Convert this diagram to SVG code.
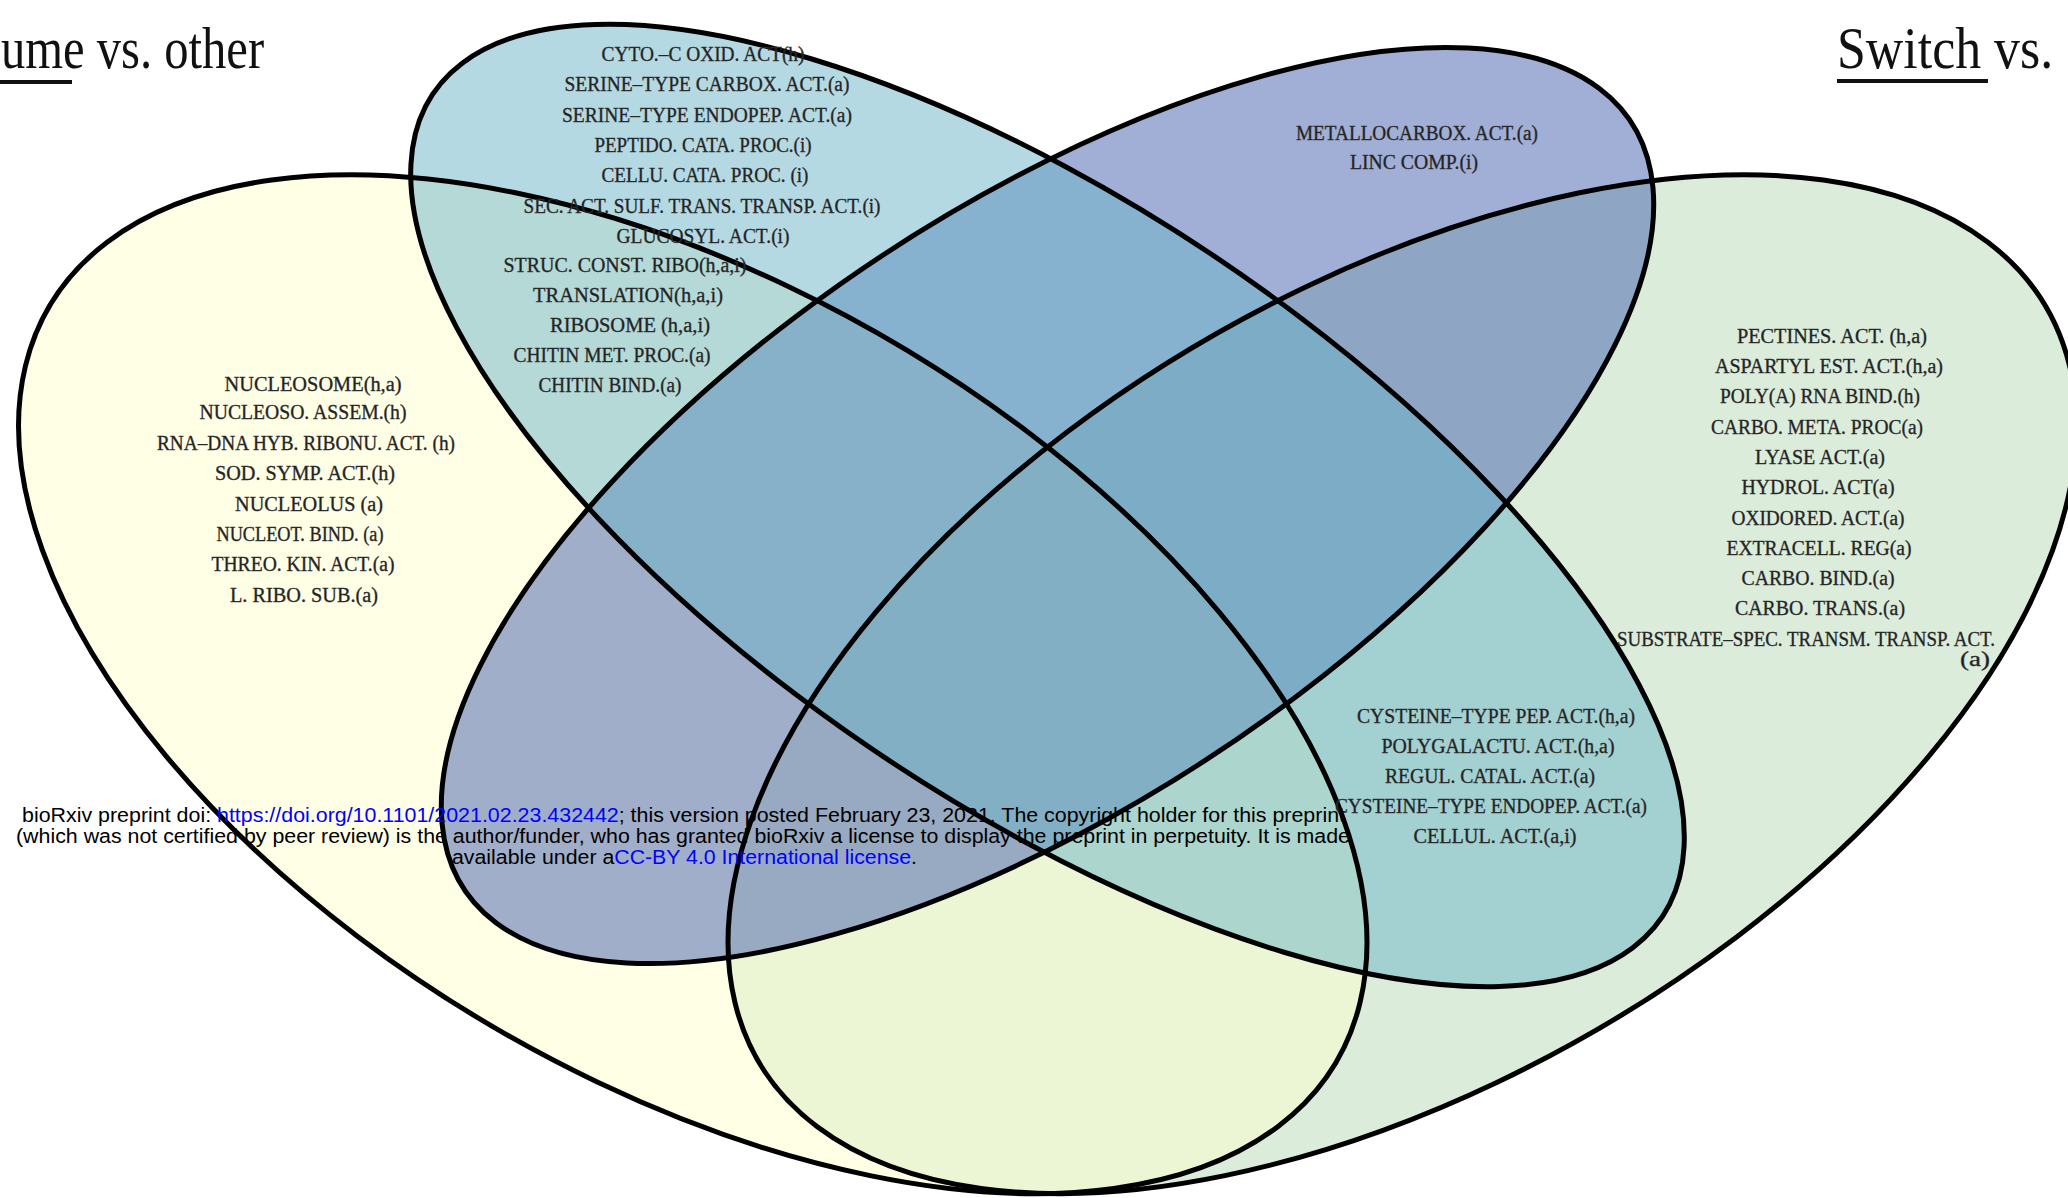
<svg xmlns="http://www.w3.org/2000/svg" width="2068" height="1198" viewBox="0 0 2068 1198">
<defs>
<style>
.fill{stroke:none;fill-opacity:0.5}
.outline{fill:none;stroke:#000;stroke-width:5;vector-effect:non-scaling-stroke}
.lbl{font-family:"Liberation Serif","Times New Roman",serif;font-size:20.5px;fill:#222;stroke:#333;stroke-width:0.35;text-anchor:middle}
.title{font-family:"Liberation Serif","Times New Roman",serif;font-size:60px;fill:#111}
.wm{font-family:"Liberation Sans",Arial,sans-serif;font-size:20px;fill:#000;text-anchor:middle}
.link{fill:#0000ff}
</style>
</defs>
<rect width="2068" height="1198" fill="#ffffff"/>

<g id="sets" transform="matrix(2365 0 0 -1787 -135 1524.1)">
  <g id="set-green"><ellipse class="fill" fill="#B7D9B7" cx="0" cy="0" rx="0.35" ry="0.2" transform="translate(0.65 0.47) rotate(45)"/></g>
  <g id="set-yellow"><ellipse class="fill" fill="#FFFFCD" cx="0" cy="0" rx="0.35" ry="0.2" transform="translate(0.35 0.47) rotate(135)"/></g>
  <g id="set-purple"><ellipse class="fill" fill="#435DAD" cx="0" cy="0" rx="0.33" ry="0.15" transform="translate(0.5 0.57) rotate(45)"/></g>
  <g id="set-blue"><ellipse class="fill" fill="#6BB3C7" cx="0" cy="0" rx="0.35" ry="0.15" transform="translate(0.5 0.57) rotate(135)"/></g>
  <g id="outlines">
    <ellipse class="outline" cx="0" cy="0" rx="0.35" ry="0.2" transform="translate(0.65 0.47) rotate(45)"/>
    <ellipse class="outline" cx="0" cy="0" rx="0.35" ry="0.2" transform="translate(0.35 0.47) rotate(135)"/>
    <ellipse class="outline" cx="0" cy="0" rx="0.33" ry="0.15" transform="translate(0.5 0.57) rotate(45)"/>
    <ellipse class="outline" cx="0" cy="0" rx="0.35" ry="0.15" transform="translate(0.5 0.57) rotate(135)"/>
  </g>
</g>

<g id="titles">
  <text class="title" transform="translate(1 68) scale(0.81 1)" x="0" y="0">ume vs. other</text>
  <line x1="0" y1="82" x2="72" y2="82" stroke="#111" stroke-width="4"/>
  <text class="title" transform="translate(1837 68) scale(0.865 1)" x="0" y="0">Switch vs.</text>
  <line x1="1837" y1="81" x2="1988" y2="81" stroke="#111" stroke-width="4"/>
</g>

<g id="labels-yellow">
  <text class="lbl" x="313" y="391" textLength="177" lengthAdjust="spacingAndGlyphs">NUCLEOSOME(h,a)</text>
  <text class="lbl" x="303" y="419" textLength="207" lengthAdjust="spacingAndGlyphs">NUCLEOSO. ASSEM.(h)</text>
  <text class="lbl" x="306" y="449.5" textLength="298" lengthAdjust="spacingAndGlyphs">RNA–DNA HYB. RIBONU. ACT. (h)</text>
  <text class="lbl" x="305" y="480" textLength="180" lengthAdjust="spacingAndGlyphs">SOD. SYMP. ACT.(h)</text>
  <text class="lbl" x="309" y="510.5" textLength="148" lengthAdjust="spacingAndGlyphs">NUCLEOLUS  (a)</text>
  <text class="lbl" x="300" y="540.5" textLength="167" lengthAdjust="spacingAndGlyphs">NUCLEOT. BIND. (a)</text>
  <text class="lbl" x="303" y="571" textLength="183" lengthAdjust="spacingAndGlyphs">THREO. KIN. ACT.(a)</text>
  <text class="lbl" x="304" y="601.5" textLength="148" lengthAdjust="spacingAndGlyphs">L. RIBO. SUB.(a)</text>
</g>

<g id="labels-blue">
  <text class="lbl" x="703" y="61" textLength="203" lengthAdjust="spacingAndGlyphs">CYTO.–C OXID. ACT(h)</text>
  <text class="lbl" x="707" y="91" textLength="285" lengthAdjust="spacingAndGlyphs">SERINE–TYPE CARBOX. ACT.(a)</text>
  <text class="lbl" x="707" y="121.5" textLength="290" lengthAdjust="spacingAndGlyphs">SERINE–TYPE ENDOPEP. ACT.(a)</text>
  <text class="lbl" x="703" y="151.5" textLength="217" lengthAdjust="spacingAndGlyphs">PEPTIDO. CATA. PROC.(i)</text>
  <text class="lbl" x="705" y="182" textLength="207" lengthAdjust="spacingAndGlyphs">CELLU. CATA. PROC. (i)</text>
  <text class="lbl" x="702" y="212.5" textLength="357" lengthAdjust="spacingAndGlyphs">SEC. ACT. SULF. TRANS. TRANSP. ACT.(i)</text>
  <text class="lbl" x="703" y="243" textLength="173" lengthAdjust="spacingAndGlyphs">GLUCOSYL. ACT.(i)</text>
  <text class="lbl" x="625" y="271.5" textLength="243" lengthAdjust="spacingAndGlyphs">STRUC. CONST. RIBO(h,a,i)</text>
  <text class="lbl" x="628" y="301.5" textLength="190" lengthAdjust="spacingAndGlyphs">TRANSLATION(h,a,i)</text>
  <text class="lbl" x="630" y="332" textLength="160" lengthAdjust="spacingAndGlyphs">RIBOSOME (h,a,i)</text>
  <text class="lbl" x="612" y="362" textLength="197" lengthAdjust="spacingAndGlyphs">CHITIN MET. PROC.(a)</text>
  <text class="lbl" x="610" y="391.5" textLength="143" lengthAdjust="spacingAndGlyphs">CHITIN BIND.(a)</text>
</g>

<g id="labels-purple">
  <text class="lbl" x="1417" y="139.5" textLength="242" lengthAdjust="spacingAndGlyphs">METALLOCARBOX. ACT.(a)</text>
  <text class="lbl" x="1414" y="169" textLength="128" lengthAdjust="spacingAndGlyphs">LINC COMP.(i)</text>
</g>

<g id="labels-green">
  <text class="lbl" x="1832" y="342.5" textLength="190" lengthAdjust="spacingAndGlyphs">PECTINES. ACT. (h,a)</text>
  <text class="lbl" x="1829" y="373" textLength="228" lengthAdjust="spacingAndGlyphs">ASPARTYL EST. ACT.(h,a)</text>
  <text class="lbl" x="1820" y="403" textLength="200" lengthAdjust="spacingAndGlyphs">POLY(A) RNA BIND.(h)</text>
  <text class="lbl" x="1817" y="433.5" textLength="212" lengthAdjust="spacingAndGlyphs">CARBO. META. PROC(a)</text>
  <text class="lbl" x="1820" y="464" textLength="130" lengthAdjust="spacingAndGlyphs">LYASE ACT.(a)</text>
  <text class="lbl" x="1818" y="494" textLength="153" lengthAdjust="spacingAndGlyphs">HYDROL. ACT(a)</text>
  <text class="lbl" x="1818" y="524.5" textLength="173" lengthAdjust="spacingAndGlyphs">OXIDORED. ACT.(a)</text>
  <text class="lbl" x="1819" y="554.5" textLength="185" lengthAdjust="spacingAndGlyphs">EXTRACELL. REG(a)</text>
  <text class="lbl" x="1818" y="585" textLength="153" lengthAdjust="spacingAndGlyphs">CARBO. BIND.(a)</text>
  <text class="lbl" x="1820" y="615" textLength="170" lengthAdjust="spacingAndGlyphs">CARBO. TRANS.(a)</text>
  <text class="lbl" x="1806" y="645.5" textLength="378" lengthAdjust="spacingAndGlyphs">SUBSTRATE–SPEC. TRANSM. TRANSP. ACT.</text>
  <text class="lbl" x="1990" y="666" style="text-anchor:end" textLength="30" lengthAdjust="spacingAndGlyphs">(a)</text>
</g>

<g id="labels-blue-green">
  <text class="lbl" x="1496" y="723" textLength="278" lengthAdjust="spacingAndGlyphs">CYSTEINE–TYPE PEP. ACT.(h,a)</text>
  <text class="lbl" x="1498" y="753" textLength="233" lengthAdjust="spacingAndGlyphs">POLYGALACTU. ACT.(h,a)</text>
  <text class="lbl" x="1490" y="783" textLength="210" lengthAdjust="spacingAndGlyphs">REGUL. CATAL. ACT.(a)</text>
  <text class="lbl" x="1491" y="813" textLength="312" lengthAdjust="spacingAndGlyphs">CYSTEINE–TYPE ENDOPEP. ACT.(a)</text>
  <text class="lbl" x="1495" y="842.5" textLength="163" lengthAdjust="spacingAndGlyphs">CELLUL. ACT.(a,i)</text>
</g>

<g id="watermark">
  <text class="wm" x="683.5" y="822" textLength="1323" lengthAdjust="spacingAndGlyphs">bioRxiv preprint doi: <tspan class="link">https://doi.org/10.1101/2021.02.23.432442</tspan>; this version posted February 23, 2021. The copyright holder for this preprint</text>
  <text class="wm" x="683" y="843" textLength="1334" lengthAdjust="spacingAndGlyphs">(which was not certified by peer review) is the author/funder, who has granted bioRxiv a license to display the preprint in perpetuity. It is made</text>
  <text class="wm" x="684.5" y="864" textLength="465" lengthAdjust="spacingAndGlyphs">available under a<tspan class="link">CC-BY 4.0 International license</tspan>.</text>
</g>
</svg>
